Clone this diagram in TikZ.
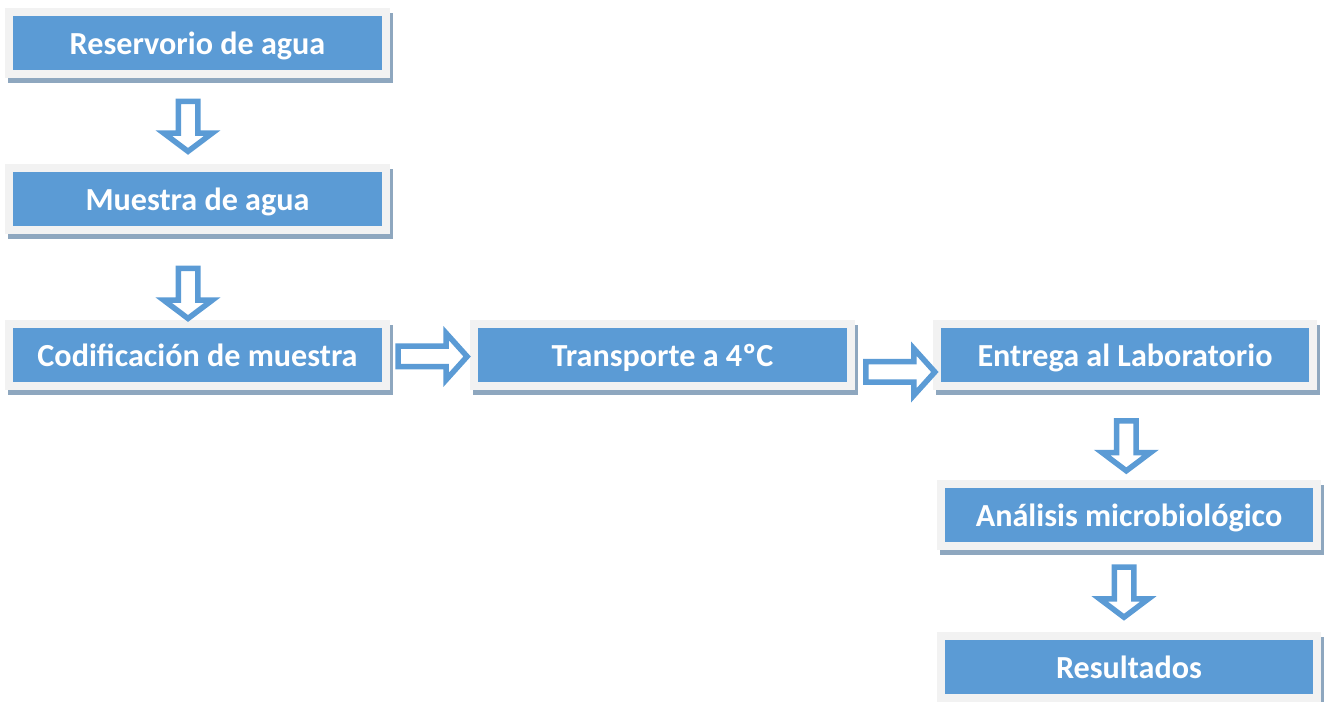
\documentclass[tikz,border=0pt]{standalone}
\usepackage{fontspec}
\setmainfont{Carlito}
\usetikzlibrary{positioning, calc, shapes.arrows, shadows}
\definecolor{boxblue}{HTML}{5B9BD5}
\definecolor{boxgray}{HTML}{F2F2F2}
\definecolor{shadowblue}{HTML}{8EA7BF}

\begin{document}
\begin{tikzpicture}[
    x=0.02cm, y=-0.02cm,
    % process boxes
    step box/.style={
        rectangle,
        fill=boxgray,
        minimum width=7.7cm,
        minimum height=1.4cm,
        inner sep=0pt,
        text height=0.48cm,
        text depth=0cm,
        text=white,
        font=\bfseries\fontsize{18.3}{20}\selectfont,
        drop shadow={shadow xshift=0.06cm, shadow yshift=-0.1cm,
            fill=shadowblue, opacity=1},
        path picture={
            \fill[boxblue]
                ([shift={(0.16cm,0.16cm)}]path picture bounding box.south west)
                rectangle
                ([shift={(-0.16cm,-0.16cm)}]path picture bounding box.north east);
        }
    },
    % hollow block arrows
    flow arrow/.style={
        single arrow,
        draw=boxblue,
        fill=white,
        line width=0.11cm,
        inner xsep=0pt,
        minimum width=0pt
    },
    down arrow/.style={
        flow arrow, rotate=-90,
        minimum height=1.0cm,
        inner ysep=0.14cm,
        single arrow head extend=0.29cm,
        single arrow tip angle=106
    },
    right arrow/.style={
        flow arrow,
        minimum height=1.38cm,
        inner ysep=0.15cm,
        single arrow head extend=0.26cm,
        single arrow tip angle=96
    }
]
\useasboundingbox (0,0) rectangle (1330,702);

% -------------------------------
% Pasos del proceso
\node[step box] (reservorio) at (197.5,43) {Reservorio de agua};
\node[step box] (muestra) at (197.5,199) {Muestra de agua};
\node[step box] (codificacion) at (197.5,355) {Codificación de muestra};
\node[step box] (transporte) at (662.5,355) {Transporte a 4ºC};
\node[step box] (entrega) at (1125,355) {Entrega al Laboratorio};
\node[step box] (analisis) at (1129,515) {Análisis microbiológico};
\node[step box] (resultados) at (1129,667) {Resultados};

% -------------------------------
% Flechas entre pasos
\node[down arrow] (flecha-1) at ([xshift=-0.19cm]$(reservorio.south)!0.52!(muestra.north)$) {};
\node[down arrow] (flecha-2) at ([xshift=-0.19cm]$(muestra.south)!0.65!(codificacion.north)$) {};
\node[right arrow] (flecha-3) at ([xshift=-0.04cm, yshift=-0.03cm]$(codificacion.east)!0.5!(transporte.west)$) {};
\node[right arrow] (flecha-4) at ([xshift=0.04cm, yshift=-0.34cm]$(transporte.east)!0.5!(entrega.west)$) {};
\node[down arrow] (flecha-5) at ([xshift=-0.02cm]$(entrega.south)!0.58!(analisis.north)$) {};
\node[down arrow] (flecha-6) at ([xshift=-0.1cm]$(analisis.south)!0.47!(resultados.north)$) {};
\end{tikzpicture}
\end{document}
